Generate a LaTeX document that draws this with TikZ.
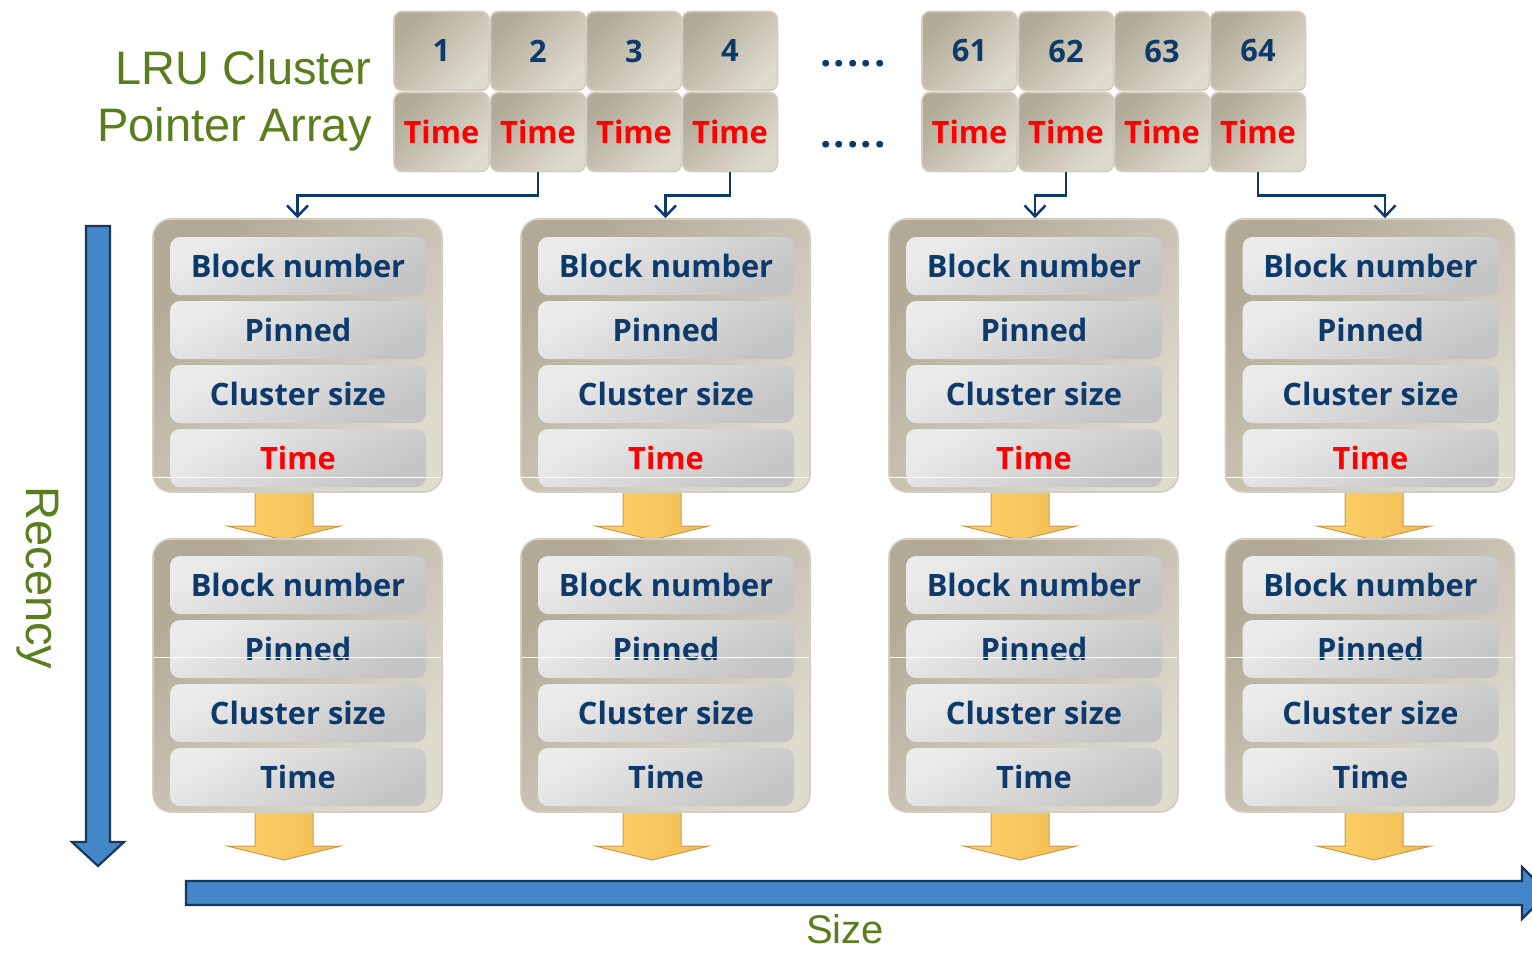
\documentclass[tikz,border=0pt]{standalone}
\usepackage{fontspec}
\setmainfont{Liberation Sans}
\newfontfamily\lab{Open Sans}
\usetikzlibrary{arrows.meta,calc}
\definecolor{navy}{HTML}{0E3A6B}
\definecolor{olive}{HTML}{5A7D1E}
\definecolor{tred}{HTML}{FF0000}
\definecolor{beigeD}{HTML}{B2AA97}
\definecolor{beigeL}{HTML}{DEDBCF}
\definecolor{beigeE}{HTML}{D2CEC1}
\definecolor{rowL}{HTML}{EBEBEB}
\definecolor{rowD}{HTML}{C4C4C4}
\definecolor{blueF}{HTML}{4387C9}
\definecolor{blueE}{HTML}{17375E}
\definecolor{yelL}{HTML}{FFD36B}
\definecolor{yelD}{HTML}{F0BC52}
\definecolor{yelE}{HTML}{C99B4E}
\newcommand\labfont{\lab\bfseries\fontsize{15.4}{19}\selectfont}
\newcommand\dotfont{\lab\bfseries\fontsize{20}{24}\selectfont}
\newcommand\titlefont{\fontsize{23.5}{28}\selectfont}
\newcommand\yarr[1]{%
  \draw[yarrow] ($(#1)+(-14.5pt,2pt)$) -- ++(29pt,0pt) -- ++(0pt,-19.5pt)
    -- ++(14pt,0pt) -- ++(-28.5pt,-7pt) -- ++(-28.5pt,7pt) -- ++(14pt,0pt) -- cycle;}
\tikzset{
  cell/.style={minimum width=47.5pt, minimum height=39.5pt, rounded corners=4pt,
    draw=beigeE, line width=0.8pt, top color=beigeD, bottom color=beigeL,
    shading angle=45, font=\labfont, text=navy, inner sep=0pt},
  outer/.style={minimum width=144.5pt, minimum height=136.5pt, rounded corners=9pt,
    draw=beigeE, line width=0.8pt, top color=beigeD, bottom color=beigeL,
    shading angle=45, inner sep=0pt},
  row/.style={minimum width=128pt, minimum height=29pt, rounded corners=5pt,
    top color=rowL, bottom color=rowD, shading angle=30, font=\labfont,
    text=navy, inner sep=0pt},
  conn/.style={draw=navy, line width=1.25pt,
    -{Straight Barb[length=5.5pt,width=10.5pt,line width=1.25pt]}},
  yarrow/.style={draw=yelE, line width=0.5pt, left color=yelL, right color=yelD},
  bigarrow/.style={draw=blueE, line width=1.1pt, fill=blueF},
  artline/.style={draw=white, line width=0.6pt},
  lbl/.style={text=olive, font=\titlefont, inner sep=0pt},
  dots/.style={font=\dotfont, text=navy, inner sep=0pt}
}
\begin{document}
\begin{tikzpicture}[x=0.5pt,y=-0.5pt]
\useasboundingbox (0,0) rectangle (1532,954);
\clip (0,0) rectangle (1532,954);
% title
\node[lbl, anchor=base east] (tA) at (372,84) {LRU Cluster};
\node[lbl, anchor=base east] (tB) at (372,141) {Pointer Array};
% pointer array
\foreach \cx/\n in {441.5/1, 538/2, 634/3, 730/4, 969.5/61, 1066/62, 1162/63, 1258/64}{
  \node[cell] (n\n) at (\cx,51) {\n};
  \node[cell, text=tred] (t\n) at (\cx,132) {Time};
}
\node[dots] (d1) at (853,64) {.\kern1pt.\kern1pt.\kern1pt.\kern1pt.};
\node[dots] (d2) at (853,145) {.\kern1pt.\kern1pt.\kern1pt.\kern1pt.};
% yellow arrows (under blocks)
\foreach \cx/\dx in {297.5/-13.5, 665.5/-13.5, 1033.5/-13.5, 1370/4}{
  \coordinate (ya) at (\cx+\dx,491);
  \yarr{ya}
  \coordinate (yb) at (\cx+\dx,811);
  \yarr{yb}
}
% blocks
\foreach \cx/\n in {297.5/1, 665.5/2, 1033.5/3, 1370/4}{
  \node[outer] (A\n) at (\cx,355.5) {};
  \node[row] (A\n r1) at (\cx+0.5,266) {Block number};
  \node[row] (A\n r2) at (\cx+0.5,330) {Pinned};
  \node[row] (A\n r3) at (\cx+0.5,394) {Cluster size};
  \node[row, text=tred] (A\n r4) at (\cx+0.5,458) {Time};
  \draw[artline] ($(A\n.south west)+(1pt,7.5pt)$) -- ($(A\n.south east)+(-1pt,7.5pt)$);
  \node[outer] (B\n) at (\cx,675.5) {};
  \node[row] (B\n r1) at (\cx+0.5,585) {Block number};
  \node[row] (B\n r2) at (\cx+0.5,649) {Pinned};
  \node[row] (B\n r3) at (\cx+0.5,713) {Cluster size};
  \node[row] (B\n r4) at (\cx+0.5,777) {Time};
  \draw[artline] ($(B\n.north west)+(1pt,-59.5pt)$) -- ($(B\n.north east)+(-1pt,-59.5pt)$);
}
% connectors
\draw[conn] (t2.south) -- ([yshift=-11.5pt]t2.south) -| (A1.north);
\draw[conn] (t4.south) -- ([yshift=-11.5pt]t4.south) -| (A2.north);
\draw[conn] (t62.south) -- ([yshift=-11.5pt]t62.south) -| ([xshift=0.75pt]A3.north);
\draw[conn] (t64.south) -- ([yshift=-11.5pt]t64.south) -| ([xshift=7.5pt]A4.north);
% axes
\draw[bigarrow] (86,226) -- (110,226) -- (110,842) -- (124,842) -- (98,866) -- (72,842) -- (86,842) -- cycle;
\draw[bigarrow] (186,881) -- (1522,881) -- (1522,867) -- (1548,893) -- (1522,919) -- (1522,905) -- (186,905) -- cycle;
\node[lbl, rotate=-90] (rec) at (38,578) {Recency};
\node[lbl, font=\fontsize{20}{24}\selectfont, anchor=base] (sz) at (845,943) {Size};
\end{tikzpicture}
\end{document}
